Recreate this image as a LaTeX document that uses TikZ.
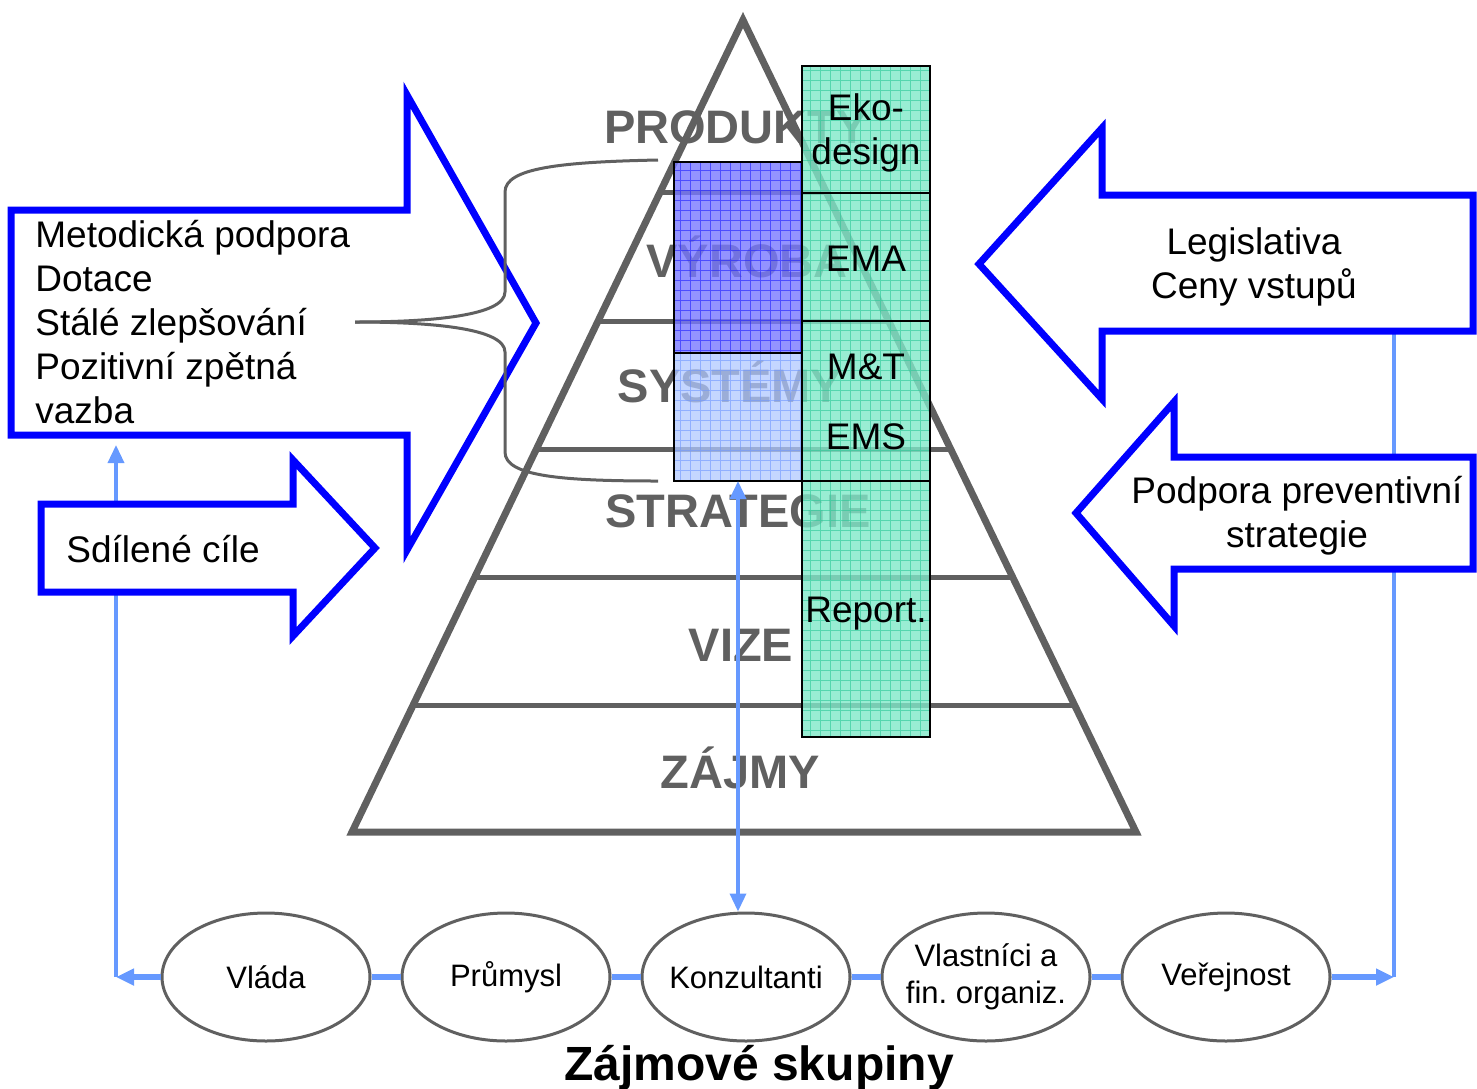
\documentclass[tikz,border=0pt]{standalone}
\usepackage{fontspec}
\setmainfont{Liberation Sans}
\frenchspacing
\usetikzlibrary{arrows.meta, positioning, shapes.geometric, calc}
\definecolor{pyrgray}{RGB}{96,96,96}
\definecolor{arrowblue}{RGB}{0,0,255}
\definecolor{linkblue}{RGB}{102,153,255}
\definecolor{ecogreen}{RGB}{128,232,200}
\definecolor{ecogrid}{RGB}{40,200,150}
\definecolor{proddark}{RGB}{120,120,255}
\definecolor{prodgrid}{RGB}{30,30,255}
\definecolor{syslight}{RGB}{176,200,255}
\definecolor{sysgrid}{RGB}{110,150,255}
\tikzset{%
  layer/.style={font=\fontsize{23.5}{28}\selectfont\bfseries, text=pyrgray, inner sep=0pt, anchor=base},
  level/.style={pyrgray, line width=2.5pt},
  outline/.style={pyrgray, line width=3.5pt},
  bigarrow/.style={draw=arrowblue, line width=3.5pt, fill=white},
  arrowtext/.style={font=\fontsize{18.5}{22}\selectfont, inner sep=0pt},
  tool/.style={font=\fontsize{18.5}{22}\selectfont, inner sep=0pt, align=center},
  group/.style={
    ellipse,
    draw=pyrgray,
    line width=1.5pt,
    fill=white,
    minimum width=104pt,
    minimum height=64pt,
    inner xsep=-20pt,
    inner ysep=0pt,
    align=center,
    font=\fontsize{15.5}{18.5}\selectfont
  },
  link/.style={linkblue, line width=1.75pt},
  chain/.style={linkblue, line width=3pt},
  brace/.style={pyrgray, line width=1.5pt},
  box/.style={black, line width=1pt}
}
\begin{document}
\begin{tikzpicture}[x=0.5pt, y=-0.5pt, >={Triangle[width=8pt,length=9pt]}]
  \useasboundingbox (0,0) rectangle (1477,1088);

  \coordinate (lcorner) at (116,977);
  \coordinate (ltop) at (116,445);
  \coordinate (rcorner) at (1394,977);
  \coordinate (rtop) at (1394,333);
  \draw[link, ->] (lcorner) -- (ltop);
  \draw[link] (rtop) -- (rcorner);

  \coordinate (apex) at (743,20);
  \coordinate (bl) at (352,832);
  \coordinate (br) at (1136,832);
  \foreach \y in {193,321,449,577,705} {
    \pgfmathsetmacro\t{(\y-20)/812}
    \draw[level] ($(apex)!\t!(bl)$) -- ($(apex)!\t!(br)$);
  }
  \draw[outline] (apex) -- (bl) -- (br) -- cycle;

  \node[layer] (produkty) at (736,143) {PRODUKTY};
  \node[layer] (vyroba) at (747,277) {VÝROBA};
  \node[layer] (systemy) at (730,402) {SYSTÉMY};
  \node[layer] (strategie) at (738,527) {STRATEGIE};
  \node[layer] (vize) at (741,661) {VIZE};
  \node[layer] (zajmy) at (740,788) {ZÁJMY};

  \fill[proddark, fill opacity=0.8] (674,162) rectangle (802,353);
  \draw[prodgrid, step=5pt, line width=0.4pt, draw opacity=0.6] (674,162) grid (802,353);
  \fill[syslight, fill opacity=0.75] (674,353) rectangle (802,481);
  \draw[sysgrid, step=5pt, line width=0.4pt, draw opacity=0.6] (674,353) grid (802,481);
  \draw[box] (674,162) rectangle (802,481);
  \draw[box] (674,353) -- (802,353);
  \coordinate (bluebottom) at (738,481);

  \fill[ecogreen, fill opacity=0.8] (802,66) rectangle (930,737);
  \draw[ecogrid, step=5pt, line width=0.4pt, draw opacity=0.6] (802,66) grid (930,737);
  \draw[box] (802,66) rectangle (930,737);
  \foreach \y in {193,321,481}
    \draw[box] (802,\y) -- (930,\y);

  \node[tool] (eko) at (866,133) {Eko-\\design};
  \node[tool, anchor=base] (ema) at (866,271) {EMA};
  \node[tool, anchor=base] (mt) at (866,379) {M\&T};
  \node[tool, anchor=base] (ems) at (866,449) {EMS};
  \node[tool, anchor=base] (report) at (866,622) {Report.};

  \draw[bigarrow] (11,210) -- (407,210) -- (407,95) -- (536,323) -- (407,550) -- (407,435) -- (11,435) -- cycle;
  \node[arrowtext, align=left, anchor=west] (podpora) at (35,322)
    {Metodická podpora\\Dotace\\Stálé zlepšování\\Pozitivní zpětná\\vazba};

  \draw[brace] (658,160) .. controls (560,162) and (505,168) .. (505,192) -- (505,292)
    .. controls (505,316) and (430,322) .. (355,322);
  \draw[brace] (355,322) .. controls (430,322) and (505,328) .. (505,352) -- (505,452)
    .. controls (505,476) and (560,481) .. (658,481);

  \draw[bigarrow] (41,504) -- (293,504) -- (293,460) -- (375,548) -- (293,636) -- (293,592) -- (41,592) -- cycle;
  \node[arrowtext, anchor=base west] (cile) at (66,562) {Sdílené cíle};

  \draw[bigarrow] (1473,195) -- (1102,195) -- (1102,128) -- (979,264) -- (1102,399) -- (1102,331) -- (1473,331) -- cycle;
  \node[arrowtext, align=center] (legislativa) at (1254,267) {Legislativa\\Ceny vstupů};

  \draw[bigarrow] (1473,457) -- (1174,457) -- (1174,402) -- (1076,513) -- (1174,626) -- (1174,569) -- (1473,569) -- cycle;
  \node[arrowtext, align=center] (prevence) at (1297,516) {Podpora preventivní\\strategie};

  \node[group] (vlada) at (266,977) {Vláda};
  \node[group, right=14.5pt of vlada] (prumysl) {Průmysl};
  \node[group, right=14.5pt of prumysl] (konz) {Konzultanti};
  \node[group, right=14.5pt of konz] (vlastnici) {Vlastníci a\\fin. organiz.};
  \node[group, right=14.5pt of vlastnici] (verejnost) {Veřejnost};

  \draw[chain] (vlada) -- (prumysl) -- (konz) -- (vlastnici) -- (verejnost);
  \draw[chain, ->] (vlada) -- (lcorner);
  \draw[chain, ->] (verejnost) -- (rcorner);
  \draw[link, <->] (bluebottom) -- (bluebottom |- konz.north);

  \node[font=\fontsize{24}{28}\selectfont\bfseries, anchor=base, inner sep=0pt] (skupiny) at (759,1080) {Zájmové skupiny};
\end{tikzpicture}
\end{document}
